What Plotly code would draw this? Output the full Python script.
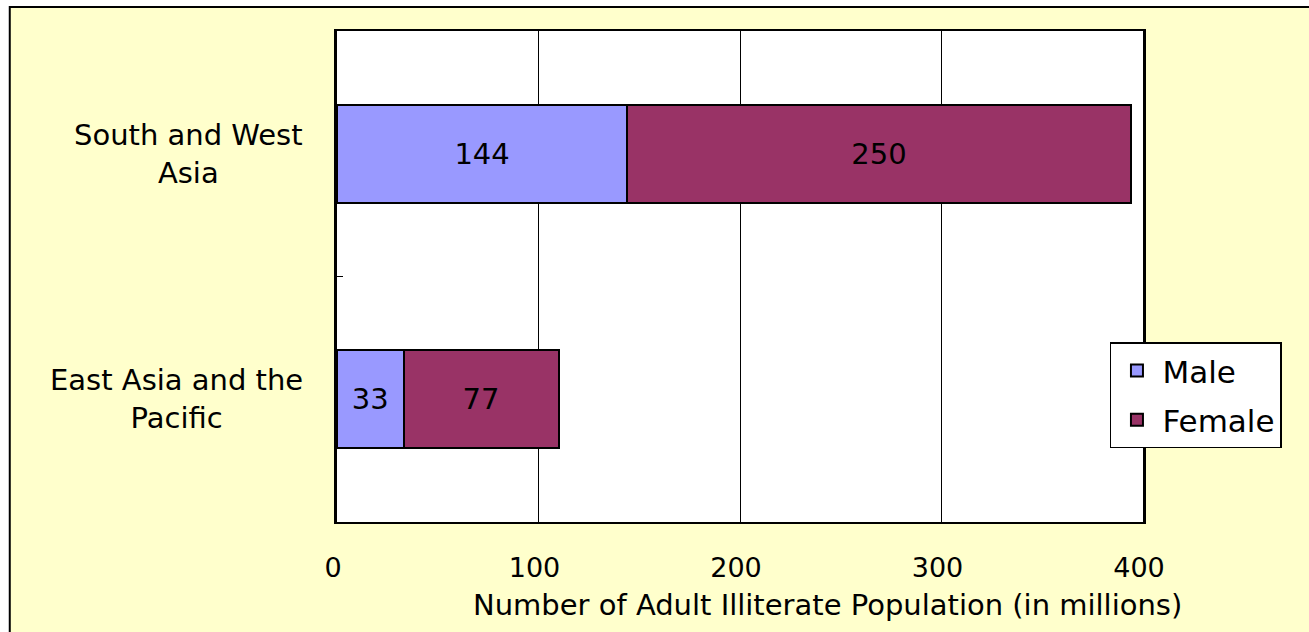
import plotly.graph_objects as go

regions = ["East Asia and the<br>Pacific", "South and West<br>Asia"]
male = [33, 144]
female = [77, 250]
x_ticks = [0, 100, 200, 300, 400]
x_title = "Number of Adult Illiterate Population (in millions)"

FONT = "DejaVu Sans"
fig = go.Figure()
fig.add_trace(go.Bar(
    y=regions, x=male, name="Male", orientation="h", legendgroup="m",
    marker=dict(color="#9999FF", line=dict(color="#000000", width=2)),
    text=[str(v) for v in male], textposition="inside", insidetextanchor="middle",
    textfont=dict(color="#000000", size=29, family=FONT), width=0.4,
))
fig.add_trace(go.Bar(
    y=regions, x=female, name="Female", orientation="h", legendgroup="f",
    marker=dict(color="#993366", line=dict(color="#000000", width=2)),
    text=[str(v) for v in female], textposition="inside", insidetextanchor="middle",
    textfont=dict(color="#000000", size=29, family=FONT), width=0.4,
))

for r in regions:
    fig.add_annotation(
        x=-0.0397, xref="paper", y=r, yref="y", text=r, showarrow=False,
        xanchor="right", align="center",
        font=dict(size=29, family=FONT, color="#000000"),
    )

# axis title, centred where the reference puts it
fig.add_annotation(
    x=0.609, xref="paper", y=-0.169, yref="paper", text=x_title, showarrow=False,
    xanchor="center", yanchor="middle",
    font=dict(size=29, family=FONT, color="#000000"),
)

# white strips outside the chart frame, then the frame itself
fig.add_shape(type="rect", xref="paper", yref="paper",
              x0=-0.45, x1=-0.406, y0=-0.3, y1=1.1,
              fillcolor="#FFFFFF", line=dict(width=0), layer="below")
fig.add_shape(type="rect", xref="paper", yref="paper",
              x0=-0.45, x1=1.3, y0=1.049, y1=1.1,
              fillcolor="#FFFFFF", line=dict(width=0), layer="below")
fig.add_shape(type="rect", xref="paper", yref="paper",
              x0=-0.406, x1=1.3, y0=-0.3, y1=1.049,
              fillcolor="rgba(0,0,0,0)", line=dict(color="#000000", width=2), layer="below")

fig.update_layout(
    width=1309, height=632,
    margin=dict(l=337, r=166, t=31, b=110),
    paper_bgcolor="#FFFFCC", plot_bgcolor="#FFFFFF",
    barmode="stack", bargap=0.6,
    showlegend=True,
    legend=dict(x=0.959, y=0.366, xanchor="left", yanchor="top",
                bgcolor="#FFFFFF", bordercolor="#000000", borderwidth=1.5,
                font=dict(size=31, family=FONT, color="#000000"),
                traceorder="grouped", itemwidth=41, tracegroupgap=6),
    font=dict(family=FONT, color="#000000"),
)
fig.update_xaxes(
    range=[0, 400], tickvals=x_ticks, ticktext=[str(t) for t in x_ticks],
    showgrid=True, gridcolor="#000000", gridwidth=1.2,
    showline=True, linecolor="#000000", linewidth=2, mirror=True,
    ticks="", ticklabelstandoff=21, ticklabelshift=-4,
    tickfont=dict(size=27, family=FONT),
    zeroline=False,
)
fig.update_yaxes(
    showticklabels=False, tickson="boundaries", ticks="inside", ticklen=6,
    tickcolor="#000000", showline=True, linecolor="#000000", linewidth=2.5,
    mirror=True, showgrid=False,
)
fig.write_html("out.html")
